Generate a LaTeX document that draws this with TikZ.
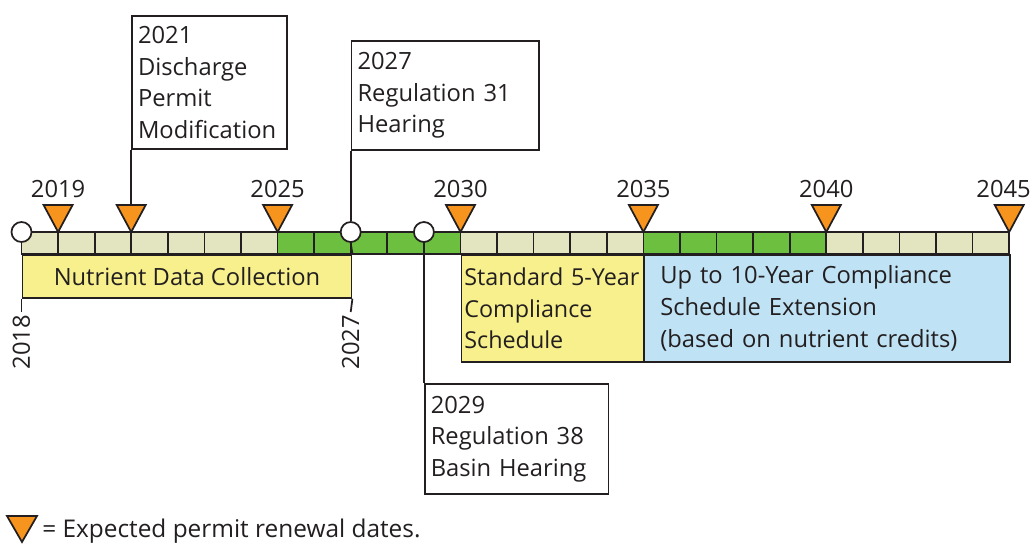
\documentclass[tikz,border=0pt]{standalone}
\usepackage{fontspec}
\setmainfont{Open Sans}
\usetikzlibrary{shapes.geometric}
\definecolor{lightcell}{HTML}{E3E4C0}
\definecolor{greencell}{HTML}{6CBF3F}
\definecolor{orangetri}{HTML}{F7941D}
\definecolor{yellowbox}{HTML}{F7F08C}
\definecolor{bluebox}{HTML}{BFE2F5}
\definecolor{ink}{HTML}{231F20}
\begin{document}
\begin{tikzpicture}[x=0.75pt,y=-0.75pt,
  every node/.style={font=\fontsize{17.8pt}{23.6pt}\selectfont, text=ink, inner sep=0pt},
  lw/.style={line width=1.3pt, draw=ink},
  cell/.style={lw},
  evbox/.style={lw, anchor=north west, align=left, inner xsep=4.5pt, inner ysep=0pt},
  spanbox/.style={lw, anchor=north west, align=left, inner ysep=0pt},
  milestone/.style={circle, lw, fill=white, minimum size=15pt},
  renew/.style={lw, fill=orangetri, line join=miter},
  yearlab/.style={anchor=base},
  rotlab/.style={rotate=90, anchor=east},
  link/.style={lw}]
\useasboundingbox (0,0) rectangle (1034,543);

% timeline cells
\foreach \i in {0,...,26}
  \draw[cell, fill=lightcell] ({21.5+\i*36.58},232) rectangle ({21.5+(\i+1)*36.58},254);
\foreach \i in {7,8,9,10,11,17,18,19,20,21}
  \draw[cell, fill=greencell] ({21.5+\i*36.58},232) rectangle ({21.5+(\i+1)*36.58},254);

% period boxes
\node[spanbox, fill=yellowbox, align=center, minimum width=246.9pt, minimum height=32.25pt] (ndc) at (21.5,254) {Nutrient Data Collection};
\node[spanbox, fill=yellowbox, inner xsep=2.25pt, text width=132.7pt, minimum height=80.25pt, font=\fontsize{17.5pt}{23.9pt}\selectfont] (std) at (460.5,254) {Standard 5-Year\\Compliance\\Schedule};
\node[spanbox, fill=bluebox, inner xsep=12pt, text width=250.35pt, minimum height=80.25pt, font=\fontsize{17.8pt}{23.9pt}\selectfont] (ext) at (643.4,254) {Up to 10-Year Compliance\\Schedule Extension\\(based on nutrient credits)};

% renewal triangles
\foreach \yr/\xx in {2019/58.1, 2021/131.2, 2025/277.6, 2030/460.5, 2035/643.4, 2040/826.3, 2045/1009.2}{
  \coordinate (a\yr) at (\xx,232);
  \coordinate (t\yr) at (\xx,205);
  \draw[renew] (a\yr) -- ++(-14.5,-27) -- ++(29,0) -- cycle;
}
\foreach \yr/\xx in {2019/58.1, 2025/277.6, 2030/460.5, 2035/643.4, 2040/826.3}
  \node[yearlab] (y\yr) at (\xx,197) {\yr};
\node[anchor=base east] (y2045) at (1031,197) {2045};

% event boxes
\node[evbox, text width=107.1pt, minimum height=99.75pt] (e2021) at (131.2,15) {2021\\Discharge\\Permit\\Modification};
\node[evbox, text width=131.5pt, minimum height=81.75pt] (e2027) at (350.7,40) {2027\\Regulation 31\\Hearing};
\node[evbox, text width=128.7pt, minimum height=82.5pt] (e2029) at (423.9,383) {2029\\Regulation 38\\Basin Hearing};

% milestones
\node[milestone] (c2018) at (21.5,232) {};
\node[milestone] (c2027) at (350.7,232) {};
\node[milestone] (c2029) at (423.9,232) {};

% connectors
\draw[link] (e2021.south west) -- (t2021);
\draw[link] (e2027.south west) -- (c2027.north);
\draw[link] (c2027.south) -- (ndc.north east);
\draw[link] (c2029.south) -- (e2029.north west);
\draw[link] (c2018.south) -- (ndc.north west);

% end ticks with rotated years
\coordinate (k2018) at (21.5,312);
\coordinate (k2027) at (350.7,312);
\draw[link] (ndc.south west) -- (k2018);
\draw[link] (ndc.south east) -- (k2027);
\node[rotlab] (r2018) at (21.5,315) {2018};
\node[rotlab] (r2027) at (350.7,315) {2027};

% legend
\coordinate (la) at (22,542);
\draw[renew] (la) -- ++(-15,-26) -- ++(30,0) -- cycle;
\node[anchor=base west, font=\fontsize{18.3pt}{23.6pt}\selectfont] (leg) at (42,537) {= Expected permit renewal dates.};
\end{tikzpicture}
\end{document}
